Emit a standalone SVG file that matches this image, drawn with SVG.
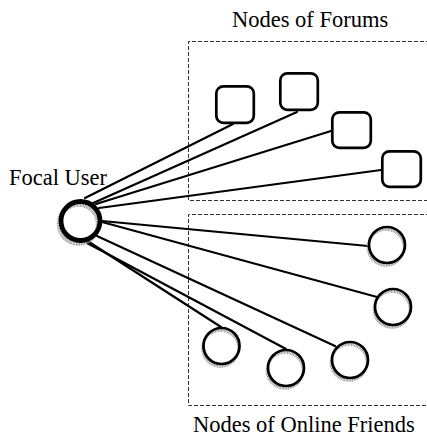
<svg xmlns="http://www.w3.org/2000/svg" width="427" height="439" viewBox="0 0 427 439">
<style>
.lbl{font-family:"Liberation Serif","Times New Roman",serif;font-size:22.5px;fill:#000}
.box{fill:none;stroke:#333;stroke-width:1;stroke-dasharray:4 2}
.edge{stroke:#000;stroke-width:2.2;fill:none;stroke-linecap:round}
.sq{fill:#fff;stroke:#000;stroke-width:2.7}
.bg{fill:#fff;stroke:none}
.shadow{fill:none;stroke:#9a9a9a;stroke-width:2.6;stroke-dasharray:1 0.6}
.ring{fill:none;stroke:#000;stroke-width:2.7}
</style>
<rect width="427" height="439" fill="#fff"/>
<g id="forum-box">
<path class="box" d="M430 41.5 H188.5 V200.5 H430"/>
<text class="lbl" x="232" y="27">Nodes of Forums</text>
</g>
<g id="friends-box">
<path class="box" d="M430 214.5 H188.5 V405.5 H430"/>
<text class="lbl" x="193" y="432">Nodes of Online Friends</text>
</g>
<g id="connectors">
<line class="edge" x1="85" y1="198" x2="233" y2="124"/>
<line class="edge" x1="91" y1="204" x2="297" y2="112"/>
<line class="edge" x1="96" y1="204" x2="331" y2="131"/>
<line class="edge" x1="99" y1="208" x2="381" y2="170"/>
<line class="edge" x1="102" y1="221" x2="368" y2="246"/>
<line class="edge" x1="102" y1="222" x2="377" y2="297"/>
<line class="edge" x1="97" y1="236" x2="335" y2="346"/>
<line class="edge" x1="89" y1="242" x2="221" y2="327"/>
<line class="edge" x1="87" y1="243" x2="286" y2="349"/>
</g>
<g id="focal-user">
<circle class="bg" cx="80.5" cy="221" r="19"/>
<circle cx="78.5" cy="224" r="19.5" fill="none" stroke="#9a9a9a" stroke-width="4.5" stroke-dasharray="1 0.6"/>
<circle cx="80.5" cy="221" r="19.5" fill="none" stroke="#000" stroke-width="4.8"/>
<text class="lbl" x="9" y="185">Focal User</text>
</g>
<g id="forum-1"><rect class="sq" x="216.3" y="86.3" width="37.5" height="36.5" rx="7"/></g>
<g id="forum-2"><rect class="sq" x="280.3" y="73.3" width="37.5" height="36.5" rx="7"/></g>
<g id="forum-3"><rect class="sq" x="332.3" y="112.3" width="38.5" height="35.5" rx="7"/></g>
<g id="forum-4"><rect class="sq" x="382.3" y="151.3" width="38.5" height="35.5" rx="7"/></g>
<g id="friend-1"><circle class="bg" cx="387" cy="245" r="18"/><circle class="shadow" cx="386" cy="247.5" r="18"/><circle class="ring" cx="387" cy="245" r="18"/></g>
<g id="friend-2"><circle class="bg" cx="393" cy="307" r="18"/><circle class="shadow" cx="392" cy="309.5" r="18"/><circle class="ring" cx="393" cy="307" r="18"/></g>
<g id="friend-3"><circle class="bg" cx="221.5" cy="346" r="18"/><circle class="shadow" cx="220.5" cy="348.5" r="18"/><circle class="ring" cx="221.5" cy="346" r="18"/></g>
<g id="friend-4"><circle class="bg" cx="286" cy="368" r="18"/><circle class="shadow" cx="285" cy="370.5" r="18"/><circle class="ring" cx="286" cy="368" r="18"/></g>
<g id="friend-5"><circle class="bg" cx="350" cy="360" r="18"/><circle class="shadow" cx="349" cy="362.5" r="18"/><circle class="ring" cx="350" cy="360" r="18"/></g>
</svg>
